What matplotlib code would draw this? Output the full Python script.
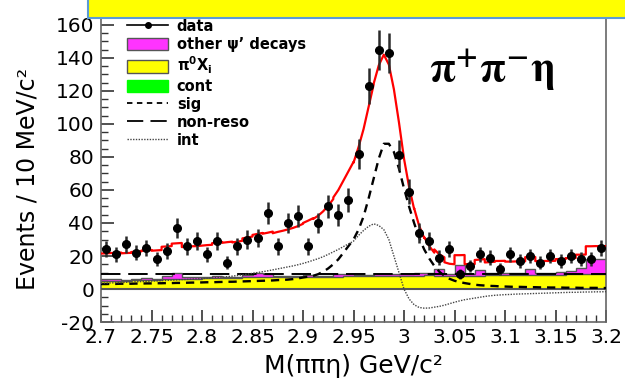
import numpy as np
import matplotlib
matplotlib.use("Agg")
import matplotlib.pyplot as plt
from matplotlib.patches import Rectangle, Patch
from matplotlib.lines import Line2D

plt.rcParams['font.family'] = ['DejaVu Sans']
plt.rcParams['axes.unicode_minus'] = False
plt.rcParams['mathtext.fontset'] = 'dejavusans'

# 10 MeV bins from 2.70 to 3.20 GeV
edges = np.linspace(2.70, 3.20, 51)
centers = 0.5 * (edges[:-1] + edges[1:])

# data counts per bin
counts = [24, 21, 27, 22, 25, 18, 23, 37, 26, 29,
          21, 29, 16, 26, 30, 31, 46, 26, 40, 44,
          26, 40, 50, 45, 54, 82, 123, 145, 143, 81,
          59, 34, 29, 19, 24, 9, 14, 21, 19, 12,
          21, 17, 20, 16, 20, 17, 20, 18, 18, 25]

# pi0 X_i background (yellow) per bin
pi0x = [5.0, 5.0, 5.0, 5.5, 5.5, 5.5, 6.0, 6.0, 6.0, 6.0,
        6.5, 6.5, 6.5, 6.5, 7.0, 7.0, 7.0, 7.0, 7.5, 7.0,
        7.5, 7.5, 7.0, 7.5, 8.0, 8.0, 8.0, 8.0, 8.0, 8.0,
        8.0, 8.0, 8.5, 8.0, 8.0, 8.0, 8.0, 8.0, 8.5, 8.5,
        8.5, 8.5, 8.5, 8.5, 8.5, 8.5, 9.0, 9.0, 9.0, 9.0]

# other psi' decays (magenta), stacked on top of pi0 X_i
other = [1.0, 1.0, 0.5, 0.5, 1.0, 0.5, 2.0, 3.5, 1.0, 1.0,
         0.5, 1.5, 1.0, 0.5, 1.5, 2.5, 2.0, 1.0, 0.5, 1.0,
         1.0, 0.5, 1.0, 1.5, 1.0, 0.5, 0.5, 1.0, 1.0, 1.0,
         1.0, 1.5, 1.5, 4.0, 1.0, 6.5, 1.0, 3.5, 1.0, 1.5,
         1.0, 1.0, 3.5, 1.0, 1.0, 2.0, 2.0, 4.0, 9.0, 9.0]

# flat non-resonant component
nonreso_level = 9.0

# smooth components sampled every 5 MeV
xs = np.linspace(2.70, 3.20, 101)
sig = [3.0, 3.0, 3.1, 3.1, 3.2, 3.2, 3.2, 3.3, 3.3, 3.4,
       3.4, 3.5, 3.5, 3.6, 3.6, 3.7, 3.7, 3.8, 3.9, 3.9,
       4.0, 4.1, 4.1, 4.2, 4.3, 4.4, 4.4, 4.5, 4.6, 4.7,
       4.8, 4.9, 5.0, 5.1, 5.2, 5.4, 5.5, 5.7, 6.0, 6.4,
       7.0, 7.5, 8.0, 9.0, 10.5, 12.5, 15.0, 18.0, 22.0, 26.0,
       30.0, 36.0, 44.0, 55.0, 67.0, 79.0, 88.0, 88.0, 83.0, 73.0,
       61.0, 50.0, 40.0, 31.0, 24.0, 18.5, 14.0, 10.5, 8.0, 6.2,
       5.0, 4.2, 3.6, 3.1, 2.6, 2.3, 2.1, 1.9, 1.8, 1.6,
       1.5, 1.4, 1.3, 1.3, 1.2, 1.1, 1.1, 1.0, 1.0, 0.9,
       0.9, 0.9, 0.8, 0.8, 0.8, 0.7, 0.7, 0.7, 0.7, 0.6, 0.6]
interf = [3.5, 3.6, 3.7, 3.8, 3.9, 4.1, 4.2, 4.4, 4.5, 4.6,
          4.8, 4.9, 5.1, 5.2, 5.4, 5.5, 5.7, 5.8, 6.0, 6.1,
          6.3, 6.5, 6.7, 6.9, 7.2, 7.5, 7.8, 8.2, 8.6, 9.0,
          9.5, 10.0, 10.5, 11.0, 11.6, 12.2, 12.8, 13.4, 14.0, 14.7,
          15.5, 16.4, 17.4, 18.4, 19.6, 21.0, 22.5, 24.0, 25.7, 27.3,
          29.0, 32.5, 35.5, 38.0, 39.5, 38.5, 36.0, 30.0, 20.0, 10.0,
          0.0, -6.0, -9.5, -11.2, -11.6, -11.5, -11.0, -10.5, -9.8, -8.9,
          -8.0, -7.2, -6.5, -6.0, -5.5, -5.0, -4.5, -4.1, -3.8, -3.6,
          -3.4, -3.3, -3.1, -3.0, -2.9, -2.8, -2.7, -2.6, -2.5, -2.4,
          -2.3, -2.2, -2.1, -2.0, -2.0, -1.9, -1.8, -1.8, -1.7, -1.7, -1.6]

x_ticks = [2.7, 2.75, 2.8, 2.85, 2.9, 2.95, 3.0, 3.05, 3.1, 3.15, 3.2]
x_ticklabels = ['2.7', '2.75', '2.8', '2.85', '2.9', '2.95', '3', '3.05', '3.1', '3.15', '3.2']

MAGENTA = '#ff33ff'
YELLOW = '#ffff00'
GREEN = '#00ff00'
OUTLINE = '#555555'

fig = plt.figure(figsize=(6.25, 3.82), dpi=100)
ax = fig.add_axes([0.1616, 0.157, 0.808, 0.795])

pi0x = np.array(pi0x)
other = np.array(other)
sig = np.array(sig)
interf = np.array(interf)
counts = np.array(counts)

# stacked MC histograms
ax.stairs(pi0x + other, edges, baseline=0, fill=True, color=MAGENTA, zorder=1)
ax.stairs(pi0x + other, edges, baseline=None, color=OUTLINE, lw=1.0, zorder=2)
ax.stairs(pi0x, edges, baseline=0, fill=True, color=YELLOW, zorder=2)
ax.stairs(pi0x, edges, baseline=None, color=OUTLINE, lw=1.0, zorder=3)
ax.axhline(0, color=OUTLINE, lw=1.5, zorder=3)

# fit components
ax.axhline(nonreso_level, color='black', lw=1.4, dashes=(10, 4), zorder=4)
ax.plot(xs, sig, color='black', lw=1.7, dashes=(3.5, 2.5), zorder=4)
ax.plot(xs, interf, color='#444444', lw=1.0, ls=(0, (1, 1)), zorder=4)

# total: histogram background plus smooth parts, evaluated bin by bin
tx, ty = [], []
for i in range(len(centers)):
    j = slice(2 * i, 2 * i + 3)
    tx.extend(xs[j])
    ty.extend(pi0x[i] + other[i] + nonreso_level + sig[j] + interf[j])
ax.plot(tx, ty, color='#ff0000', lw=1.6, zorder=5)

# data
ax.errorbar(centers, counts, yerr=np.sqrt(counts), xerr=0.0035, fmt='o',
            color='black', ecolor='#2a2a2a', ms=5.5, elinewidth=1.8,
            capsize=0, zorder=6)

ax.set_xlim(2.7, 3.2)
ax.set_ylim(-20, 164)
ax.set_xticks(x_ticks)
ax.set_xticklabels(x_ticklabels)
ax.set_xticks(np.arange(2.70, 3.2001, 0.01), minor=True)
ax.set_yticks(np.arange(-20, 161, 20))
ax.set_yticks(np.arange(-20, 161, 5), minor=True)
ax.tick_params(which='both', direction='in', top=False, right=False,
               labelsize=14.5, colors='#333333', labelcolor='black')
ax.tick_params(which='major', length=9, width=1.2)
ax.tick_params(which='minor', length=5, width=1.0)
ax.tick_params(axis='x', pad=4)
ax.tick_params(axis='y', pad=5)
for s in ax.spines.values():
    s.set_color('#666666')
    s.set_linewidth(1.2)

ax.set_xlabel('M(ππη) GeV/c²', fontsize=18, labelpad=5)
ax.set_ylabel('Events / 10 MeV/c²', fontsize=17)
ax.yaxis.set_label_coords(-0.122, 0.47)

handles = [
    Line2D([], [], color='black', marker='o', ms=4, lw=1.2),
    Patch(facecolor=MAGENTA, edgecolor=OUTLINE),
    Patch(facecolor=YELLOW, edgecolor=OUTLINE),
    Patch(facecolor=GREEN, edgecolor=GREEN),
    Line2D([], [], color='black', lw=1.3, dashes=(3, 2.5)),
    Line2D([], [], color='black', lw=1.3, dashes=(9, 4)),
    Line2D([], [], color='#444444', lw=1.0, ls=(0, (1, 1))),
]
labels = ['data', "other ψ’ decays", r'$\mathbf{\pi^0X_i}$', 'cont', 'sig',
          'non-reso', 'int']
ax.legend(handles, labels, loc='upper left', bbox_to_anchor=(0.052, 0.998),
          frameon=False, prop={'weight': 'bold', 'size': 10.5},
          handlelength=2.8, handleheight=0.95, labelspacing=0.2,
          handletextpad=0.6, borderaxespad=0, borderpad=0)

ax.text(0.65, 0.83, r'$\mathbf{\pi^{+}\pi^{-}\eta}$', transform=ax.transAxes,
        fontsize=30, math_fontfamily='stix', ha='left', va='center')

# title banner across the top
fig.patches.append(Rectangle((88 / 625, 1 - 18 / 382), 0.9, 0.2,
                             transform=fig.transFigure, facecolor=YELLOW,
                             edgecolor='#5b9bd5', lw=1.5, zorder=10))

fig.savefig('out.png', dpi=100)
